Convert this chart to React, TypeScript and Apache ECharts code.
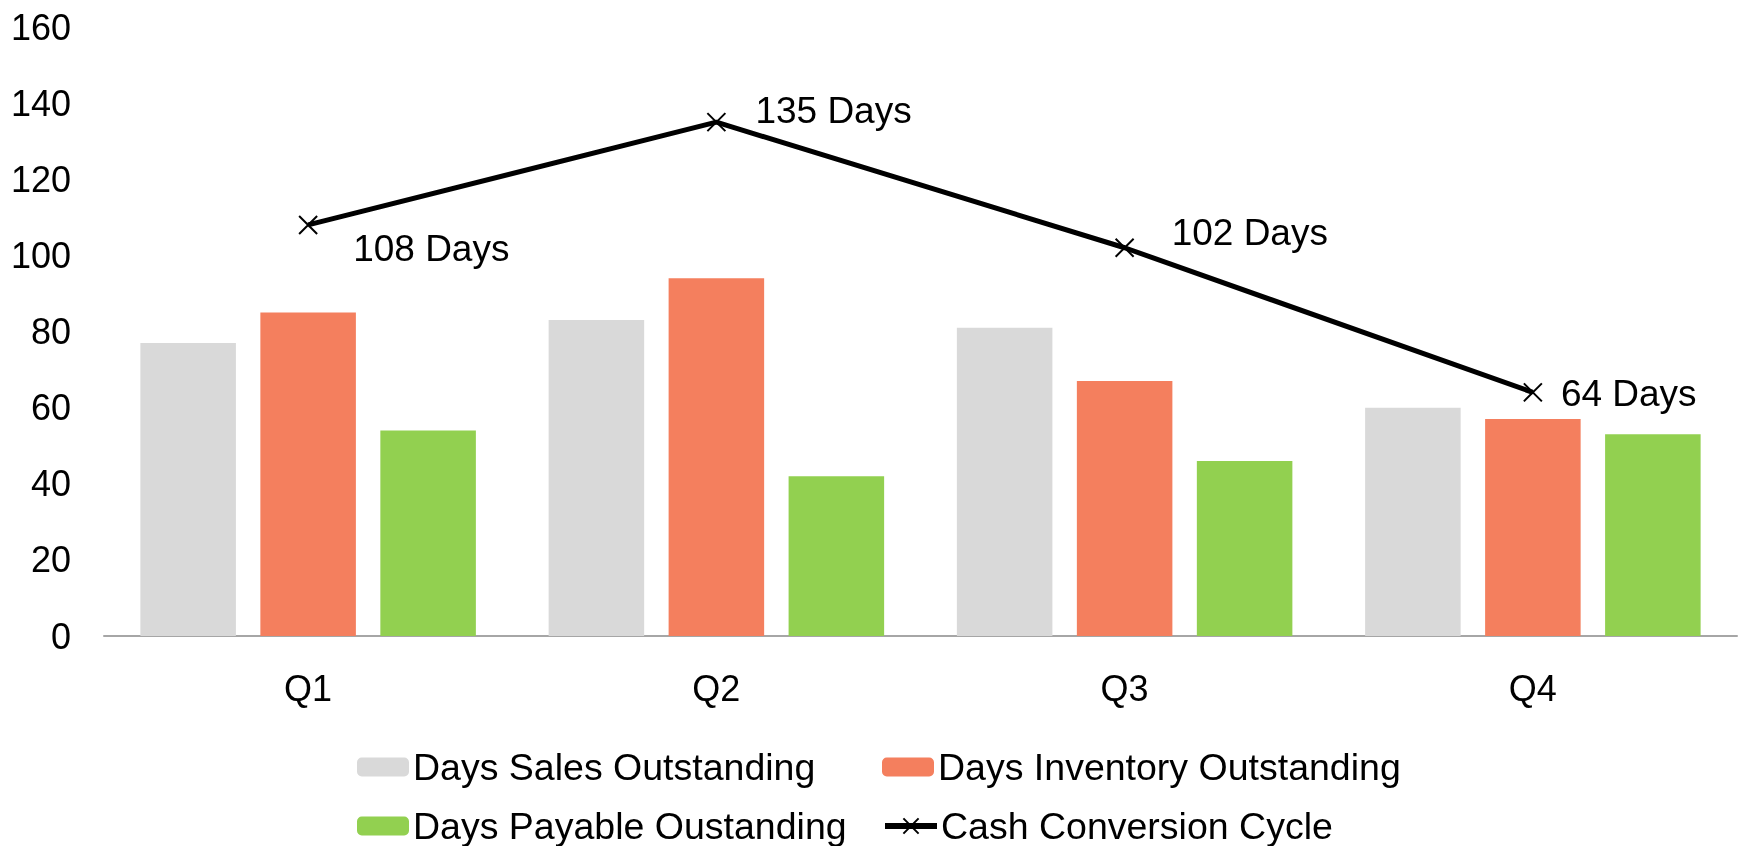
import React, { useEffect, useRef } from "react";
import * as echarts from "echarts";

const categories = ["Q1", "Q2", "Q3", "Q4"];
const dsoValues = [77, 83, 81, 60];
const dioValues = [85, 94, 67, 57];
const dpoValues = [54, 42, 46, 53];
const cccValues = [108, 135, 102, 64];
const yTicks = [0, 20, 40, 60, 80, 100, 120, 140, 160];
const seriesNames = [
  "Days Sales Outstanding",
  "Days Inventory Outstanding",
  "Days Payable Oustanding",
  "Cash Conversion Cycle",
];
const labelOffsets = [
  [35, 24],
  [29, -12],
  [37, -15],
  [18, 1],
];

const FONT = "Liberation Sans, Arial, sans-serif";

export default function App() {
  const ref = useRef<HTMLDivElement>(null);
  useEffect(() => {
    if (!ref.current) return;
    const chart = echarts.init(ref.current, undefined, { renderer: "svg" });
    const legendPos = [
      [357, 748],
      [882, 748],
      [357, 807],
      [882, 807],
    ];
    chart.setOption({
      animation: false,
      textStyle: { fontFamily: FONT },
      grid: { left: 104, right: 2, top: 27, bottom: 210, containLabel: false },
      legend: seriesNames.map((n, i) => ({
        data: [n],
        left: legendPos[i][0],
        top: legendPos[i][1],
        padding: 0,
        itemWidth: 52,
        itemHeight: 19,
        itemGap: 0,
        selectedMode: false,
        lineStyle: { width: 6, color: "#000" },
        textStyle: { fontSize: 37.5, color: "#000", fontFamily: FONT, padding: [0, 0, 0, -1] },
      })),
      xAxis: {
        type: "category",
        data: categories,
        axisLine: { lineStyle: { color: "#A6A6A6", width: 2 } },
        axisTick: { show: false },
        axisLabel: { fontSize: 36, color: "#000", margin: 34, fontFamily: FONT },
      },
      yAxis: {
        type: "value",
        min: yTicks[0],
        max: yTicks[yTicks.length - 1],
        interval: 20,
        axisLine: { show: false },
        axisTick: { show: false },
        splitLine: { show: false },
        axisLabel: { fontSize: 36, color: "#000", margin: 33, fontFamily: FONT },
      },
      series: [
        {
          name: seriesNames[0],
          type: "bar",
          data: dsoValues,
          barWidth: "23.4%",
          barGap: "25.6%",
          itemStyle: { color: "#D9D9D9" },
        },
        {
          name: seriesNames[1],
          type: "bar",
          data: dioValues,
          barWidth: "23.4%",
          barGap: "25.6%",
          itemStyle: { color: "#F47F5E" },
        },
        {
          name: seriesNames[2],
          type: "bar",
          data: dpoValues,
          barWidth: "23.4%",
          barGap: "25.6%",
          itemStyle: { color: "#92D050" },
        },
        {
          name: seriesNames[3],
          type: "line",
          data: cccValues.map((v, i) => ({
            value: v,
            label: { offset: labelOffsets[i] },
          })),
          symbol: "path://M0,0L10,10M10,0L0,10",
          symbolSize: 18,
          showAllSymbol: true,
          lineStyle: { color: "#000", width: 5 },
          itemStyle: { color: "#000", borderColor: "#000", borderWidth: 2 },
          label: {
            show: true,
            position: "right",
            distance: 0,
            formatter: "{c} Days",
            fontSize: 37,
            color: "#000",
            fontFamily: FONT,
          },
          z: 5,
        },
      ],
    });
    return () => chart.dispose();
  }, []);
  return (
    <div
      ref={ref}
      style={{ position: "fixed", left: 0, top: 0, width: 1739, height: 846 }}
    />
  );
}
